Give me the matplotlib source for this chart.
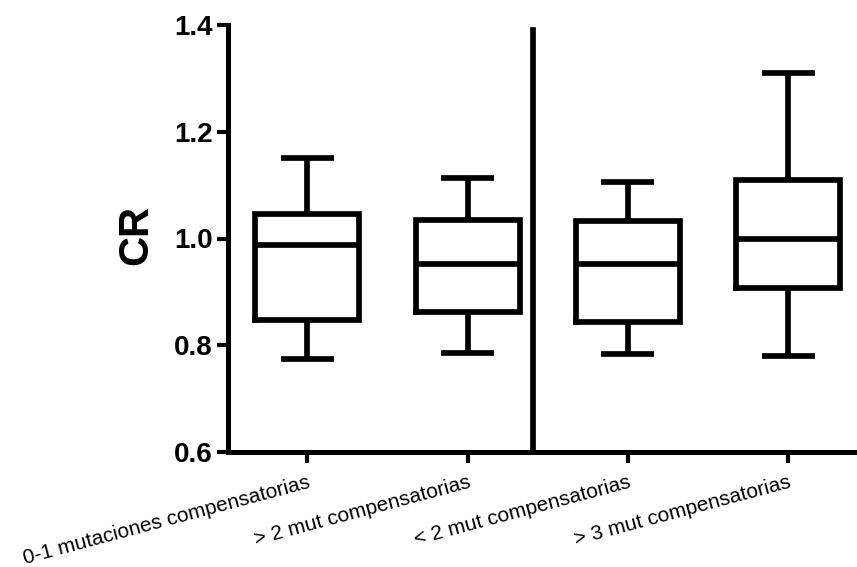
import matplotlib
matplotlib.use("Agg")
import matplotlib.pyplot as plt

# ---- data ----
categories = ["0-1 mutaciones compensatorias", "> 2 mut compensatorias",
              "< 2 mut compensatorias", "> 3 mut compensatorias"]
whisker_low = [0.774, 0.786, 0.784, 0.779]
q1 = [0.847, 0.863, 0.843, 0.907]
median = [0.988, 0.952, 0.952, 1.000]
q3 = [1.045, 1.035, 1.032, 1.110]
whisker_high = [1.150, 1.114, 1.105, 1.310]
y_ticks = [0.6, 0.8, 1.0, 1.2, 1.4]
y_tick_labels = ["0.6", "0.8", "1.0", "1.2", "1.4"]
separator_x = 2.41
separator_top = 1.39

plt.rcParams['font.family'] = ['Liberation Sans', 'DejaVu Sans']

fig = plt.figure(figsize=(8.57, 5.67), dpi=100)
ax = fig.add_axes([228/857, 1-452/567, 1-228/857, (452-25)/567])

stats = []
for i, c in enumerate(categories):
    stats.append(dict(label=c, whislo=whisker_low[i], q1=q1[i], med=median[i],
                      q3=q3[i], whishi=whisker_high[i], fliers=[]))

lw = 4.1
positions = list(range(1, len(categories) + 1))
bp = ax.bxp(stats, positions=positions, widths=0.65, capwidths=0.33,
            showfliers=False, patch_artist=False,
            boxprops=dict(color='black', linewidth=lw, solid_joinstyle='miter'),
            medianprops=dict(color='black', linewidth=lw, solid_capstyle='butt'),
            whiskerprops=dict(color='black', linewidth=lw, solid_capstyle='butt'),
            capprops=dict(color='black', linewidth=lw, solid_capstyle='butt'))

ax.set_xlim(1 - (307.3-228)/160.3, 1 + (857-307.3)/160.3)
ax.set_ylim(0.6, 1.4)

ax.axvline(separator_x, ymin=0, ymax=(separator_top-0.6)/0.8, color='black', linewidth=lw)

for s in ['top', 'right']:
    ax.spines[s].set_visible(False)
for s in ['left', 'bottom']:
    ax.spines[s].set_linewidth(3.6)

ax.set_yticks(y_ticks)
ax.set_yticklabels(y_tick_labels, fontsize=20, fontweight='bold')
ax.set_xticks(positions)
ax.set_xticklabels(categories, fontsize=15, rotation=15, ha='right',
                   rotation_mode='anchor')
ax.tick_params(axis='y', length=8, width=3, pad=3, direction='out')
ax.tick_params(axis='x', length=8, width=3, pad=7, direction='out')

ax.set_ylabel("CR", fontsize=30, fontweight='bold')
ax.yaxis.set_label_coords((156-228)/629, 0.508)

fig.savefig("out.png", dpi=100)
